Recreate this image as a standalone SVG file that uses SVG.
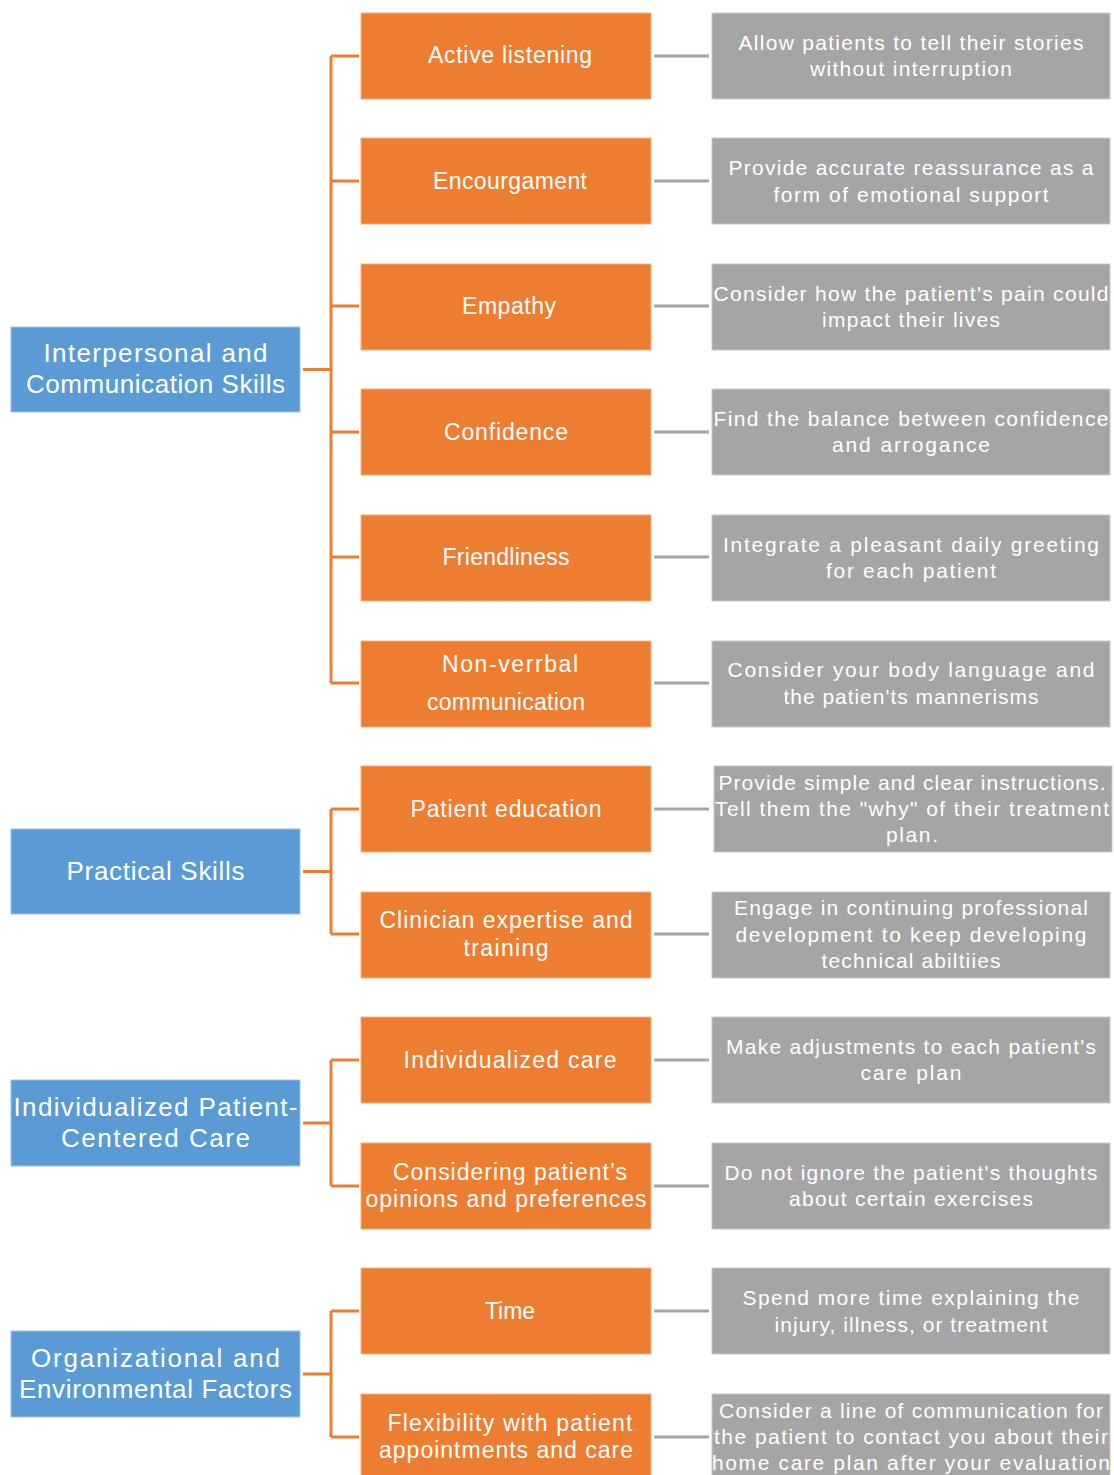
<svg xmlns="http://www.w3.org/2000/svg" width="1114" height="1475" viewBox="0 0 1114 1475">
<style>
.blue{fill:#5B9BD5;stroke:#9DC3E6;stroke-width:1}
.orange{fill:#ED7D31;stroke:#F4B183;stroke-width:1}
.gray{fill:#A5A5A5;stroke:#C9C9C9;stroke-width:1}
text{font-family:"Liberation Sans",Arial,sans-serif;fill:#FFFFFF;text-anchor:middle}
.tb{font-size:26px}
.to{font-size:23px}
.tg{font-size:21px}
.co{fill:none;stroke:#ED7D31;stroke-width:3}
.cg{fill:none;stroke:#A5A5A5;stroke-width:3}
</style>
<rect width="1114" height="1475" fill="#FFFFFF"/>
<g id="connectors">
<path class="co" d="M303 369.5H331M331 56V683M331 56H359M331 181H359M331 306H359M331 432H359M331 557H359M331 683H359"/>
<path class="co" d="M303 871.5H331M331 809V934M331 809H359M331 934H359"/>
<path class="co" d="M303 1123H331M331 1060V1186M331 1060H359M331 1186H359"/>
<path class="co" d="M303 1374H331M331 1311V1437M331 1311H359M331 1437H359"/>
<path class="cg" d="M654 56H709M654 181H709M654 306H709M654 432H709M654 557H709M654 683H709M654 809H709M654 934H709M654 1060H709M654 1186H709M654 1311H709M654 1437H709"/>
</g>
<g id="cat-interpersonal"><rect class="blue" x="11" y="327" width="289" height="85"/><text class="tb" x="155.5" y="362" textLength="224">Interpersonal and</text><text class="tb" x="155.5" y="393" textLength="259">Communication Skills</text></g>
<g id="cat-practical"><rect class="blue" x="11" y="829" width="289" height="85"/><text class="tb" x="155.5" y="880" textLength="178">Practical Skills</text></g>
<g id="cat-individualized"><rect class="blue" x="11" y="1080" width="289" height="86"/><text class="tb" x="155.5" y="1116" textLength="284">Individualized Patient-</text><text class="tb" x="155.5" y="1147" textLength="189">Centered Care</text></g>
<g id="cat-organizational"><rect class="blue" x="11" y="1331" width="289" height="86"/><text class="tb" x="155.5" y="1367" textLength="249">Organizational and</text><text class="tb" x="155.5" y="1398" textLength="273">Environmental Factors</text></g>

<g id="skill-active"><rect class="orange" x="361" y="13" width="290" height="86"/><text class="to" x="510" y="63" textLength="164">Active listening</text></g>
<g id="skill-encouragement"><rect class="orange" x="361" y="138" width="290" height="86"/><text class="to" x="510" y="189" textLength="154">Encourgament</text></g>
<g id="skill-empathy"><rect class="orange" x="361" y="264" width="290" height="86"/><text class="to" x="509" y="314" textLength="94">Empathy</text></g>
<g id="skill-confidence"><rect class="orange" x="361" y="389" width="290" height="86"/><text class="to" x="506" y="440" textLength="124">Confidence</text></g>
<g id="skill-friendliness"><rect class="orange" x="361" y="515" width="290" height="86"/><text class="to" x="506" y="565" textLength="127">Friendliness</text></g>
<g id="skill-nonverbal"><rect class="orange" x="361" y="641" width="290" height="86"/><text class="to" x="510" y="672" textLength="136">Non-verrbal</text><text class="to" x="506" y="710" textLength="158">communication</text></g>
<g id="skill-education"><rect class="orange" x="361" y="766" width="290" height="86"/><text class="to" x="506" y="817" textLength="191">Patient education</text></g>
<g id="skill-expertise"><rect class="orange" x="361" y="892" width="290" height="86"/><text class="to" x="506" y="928" textLength="253">Clinician expertise and</text><text class="to" x="506" y="956" textLength="85">training</text></g>
<g id="skill-individualized"><rect class="orange" x="361" y="1017" width="290" height="86"/><text class="to" x="510" y="1068" textLength="213">Individualized care</text></g>
<g id="skill-opinions"><rect class="orange" x="361" y="1143" width="290" height="86"/><text class="to" x="510" y="1180" textLength="234">Considering patient’s</text><text class="to" x="506" y="1207" textLength="281">opinions and preferences</text></g>
<g id="skill-time"><rect class="orange" x="361" y="1268" width="290" height="86"/><text class="to" x="510" y="1319" textLength="50">Time</text></g>
<g id="skill-flexibility"><rect class="orange" x="361" y="1394" width="290" height="86"/><text class="to" x="510" y="1431" textLength="245">Flexibility with patient</text><text class="to" x="506" y="1458" textLength="254">appointments and care</text></g>

<g id="tip-active"><rect class="gray" x="712" y="13" width="398" height="86"/><text class="tg" x="911" y="50" textLength="345">Allow patients to tell their stories</text><text class="tg" x="911" y="76" textLength="202">without interruption</text></g>
<g id="tip-encouragement"><rect class="gray" x="712" y="138" width="398" height="86"/><text class="tg" x="911" y="175" textLength="365">Provide accurate reassurance as a</text><text class="tg" x="911" y="202" textLength="275">form of emotional support</text></g>
<g id="tip-empathy"><rect class="gray" x="712" y="264" width="398" height="86"/><text class="tg" x="911" y="301" textLength="395">Consider how the patient's pain could</text><text class="tg" x="911" y="327" textLength="178">impact their lives</text></g>
<g id="tip-confidence"><rect class="gray" x="712" y="389" width="398" height="86"/><text class="tg" x="911" y="426" textLength="395">Find the balance between confidence</text><text class="tg" x="911" y="452" textLength="158">and arrogance</text></g>
<g id="tip-friendliness"><rect class="gray" x="712" y="515" width="398" height="86"/><text class="tg" x="911" y="552" textLength="376">Integrate a pleasant daily greeting</text><text class="tg" x="911" y="578" textLength="170">for each patient</text></g>
<g id="tip-nonverbal"><rect class="gray" x="712" y="641" width="398" height="86"/><text class="tg" x="911" y="677" textLength="367">Consider your body language and</text><text class="tg" x="911" y="704" textLength="255">the patien'ts mannerisms</text></g>
<g id="tip-education"><rect class="gray" x="714" y="766" width="398" height="86"/><text class="tg" x="912" y="790" textLength="387">Provide simple and clear instructions.</text><text class="tg" x="912" y="816" textLength="394">Tell them the "why" of their treatment</text><text class="tg" x="912" y="842" textLength="52">plan.</text></g>
<g id="tip-expertise"><rect class="gray" x="712" y="892" width="398" height="86"/><text class="tg" x="911" y="915" textLength="354">Engage in continuing professional</text><text class="tg" x="911" y="942" textLength="351">development to keep developing</text><text class="tg" x="911" y="968" textLength="179">technical abiltiies</text></g>
<g id="tip-individualized"><rect class="gray" x="712" y="1017" width="398" height="86"/><text class="tg" x="911" y="1054" textLength="370">Make adjustments to each patient's</text><text class="tg" x="911" y="1080" textLength="101">care plan</text></g>
<g id="tip-opinions"><rect class="gray" x="712" y="1143" width="398" height="86"/><text class="tg" x="911" y="1180" textLength="373">Do not ignore the patient's thoughts</text><text class="tg" x="911" y="1206" textLength="244">about certain exercises</text></g>
<g id="tip-time"><rect class="gray" x="712" y="1268" width="398" height="86"/><text class="tg" x="911" y="1305" textLength="337">Spend more time explaining the</text><text class="tg" x="911" y="1332" textLength="273">injury, illness, or treatment</text></g>
<g id="tip-flexibility"><rect class="gray" x="712" y="1394" width="398" height="86"/><text class="tg" x="911" y="1418" textLength="384">Consider a line of communication for</text><text class="tg" x="911" y="1444" textLength="394">the patient to contact you about their</text><text class="tg" x="911" y="1470" textLength="398">home care plan after your evaluation</text></g>
</svg>
